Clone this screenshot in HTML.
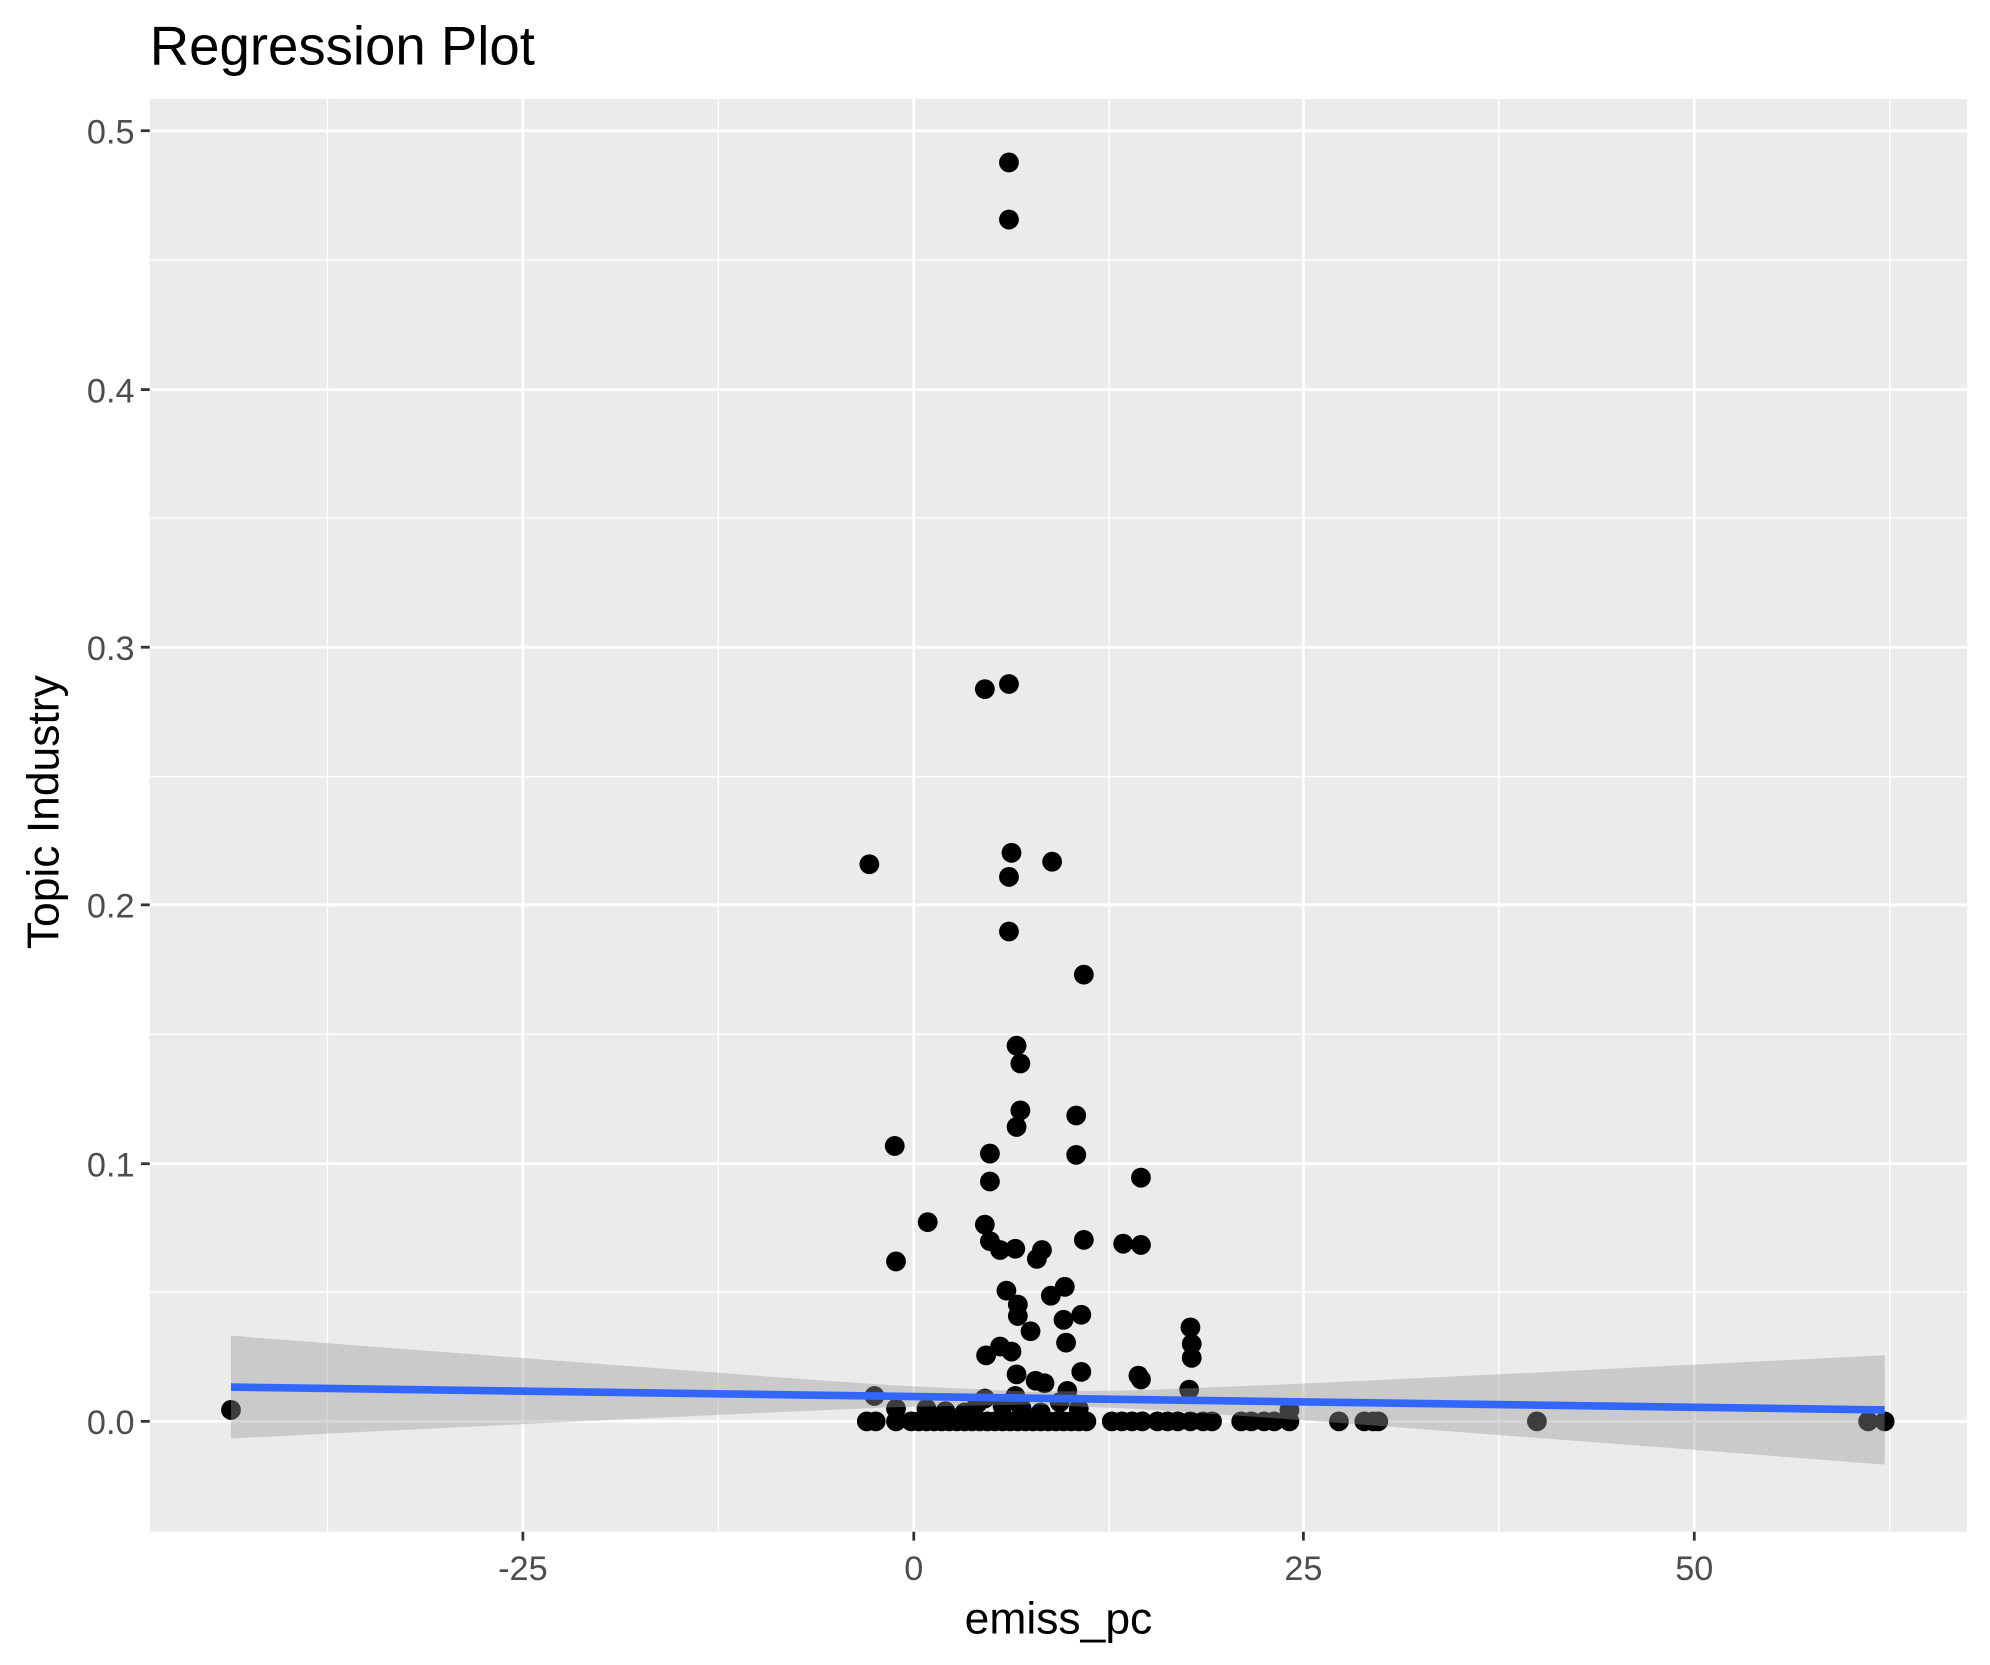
<!DOCTYPE html>
<html><head><meta charset="utf-8"><style>
html,body{margin:0;padding:0;background:#fff;}
svg{display:block;}
text{font-family:"Liberation Sans",sans-serif;}
</style></head><body>
<svg width="1990" height="1665" viewBox="0 0 1568 1312" preserveAspectRatio="none" xmlns="http://www.w3.org/2000/svg">
<rect x="0" y="0" width="1568" height="1312" fill="#fff"/>
<rect x="118" y="78" width="1432" height="1129" fill="#EBEBEB"/>
<g stroke="#fff" stroke-width="1.1">
<line x1="258" y1="78" x2="258" y2="1207"/><line x1="566" y1="78" x2="566" y2="1207"/><line x1="874" y1="78" x2="874" y2="1207"/><line x1="1181" y1="78" x2="1181" y2="1207"/><line x1="1489" y1="78" x2="1489" y2="1207"/>
<line x1="118" y1="1018" x2="1550" y2="1018"/><line x1="118" y1="815" x2="1550" y2="815"/><line x1="118" y1="612" x2="1550" y2="612"/><line x1="118" y1="408" x2="1550" y2="408"/><line x1="118" y1="205" x2="1550" y2="205"/>
</g>
<g stroke="#fff" stroke-width="2.2">
<line x1="412" y1="78" x2="412" y2="1207"/><line x1="720" y1="78" x2="720" y2="1207"/><line x1="1027" y1="78" x2="1027" y2="1207"/><line x1="1335" y1="78" x2="1335" y2="1207"/>
<line x1="118" y1="1120" x2="1550" y2="1120"/><line x1="118" y1="917" x2="1550" y2="917"/><line x1="118" y1="713" x2="1550" y2="713"/><line x1="118" y1="510" x2="1550" y2="510"/><line x1="118" y1="307" x2="1550" y2="307"/><line x1="118" y1="103" x2="1550" y2="103"/>
</g>
<g fill="#000">
<circle cx="182" cy="1111" r="7.8"/><circle cx="795" cy="128" r="7.8"/><circle cx="795" cy="173" r="7.8"/><circle cx="776" cy="543" r="7.8"/><circle cx="795" cy="539" r="7.8"/><circle cx="685" cy="681" r="7.8"/><circle cx="797" cy="672" r="7.8"/><circle cx="829" cy="679" r="7.8"/><circle cx="795" cy="691" r="7.8"/><circle cx="795" cy="734" r="7.8"/><circle cx="854" cy="768" r="7.8"/><circle cx="801" cy="824" r="7.8"/><circle cx="804" cy="838" r="7.8"/><circle cx="804" cy="875" r="7.8"/><circle cx="801" cy="888" r="7.8"/><circle cx="848" cy="879" r="7.8"/><circle cx="705" cy="903" r="7.8"/><circle cx="780" cy="909" r="7.8"/><circle cx="848" cy="910" r="7.8"/><circle cx="899" cy="928" r="7.8"/><circle cx="780" cy="931" r="7.8"/><circle cx="731" cy="963" r="7.8"/><circle cx="776" cy="965" r="7.8"/><circle cx="780" cy="978" r="7.8"/><circle cx="788" cy="985" r="7.8"/><circle cx="800" cy="984" r="7.8"/><circle cx="854" cy="977" r="7.8"/><circle cx="885" cy="980" r="7.8"/><circle cx="899" cy="981" r="7.8"/><circle cx="821" cy="985" r="7.8"/><circle cx="817" cy="992" r="7.8"/><circle cx="706" cy="994" r="7.8"/><circle cx="793" cy="1017" r="7.8"/><circle cx="828" cy="1021" r="7.8"/><circle cx="839" cy="1014" r="7.8"/><circle cx="802" cy="1028" r="7.8"/><circle cx="802" cy="1037" r="7.8"/><circle cx="852" cy="1036" r="7.8"/><circle cx="812" cy="1049" r="7.8"/><circle cx="938" cy="1046" r="7.8"/><circle cx="838" cy="1040" r="7.8"/><circle cx="840" cy="1058" r="7.8"/><circle cx="939" cy="1059" r="7.8"/><circle cx="939" cy="1070" r="7.8"/><circle cx="788" cy="1061" r="7.8"/><circle cx="797" cy="1065" r="7.8"/><circle cx="777" cy="1068" r="7.8"/><circle cx="852" cy="1081" r="7.8"/><circle cx="801" cy="1083" r="7.8"/><circle cx="816" cy="1088" r="7.8"/><circle cx="823" cy="1090" r="7.8"/><circle cx="897" cy="1084" r="7.8"/><circle cx="899" cy="1087" r="7.8"/><circle cx="937" cy="1095" r="7.8"/><circle cx="841" cy="1096" r="7.8"/><circle cx="689" cy="1100" r="7.8"/><circle cx="706" cy="1110" r="7.8"/><circle cx="1016" cy="1111" r="7.8"/>
<circle cx="730" cy="1110" r="7.8"/><circle cx="745" cy="1112" r="7.8"/><circle cx="760" cy="1113" r="7.8"/><circle cx="776" cy="1102" r="7.8"/><circle cx="790" cy="1108" r="7.8"/><circle cx="805" cy="1110" r="7.8"/><circle cx="820" cy="1113" r="7.8"/><circle cx="835" cy="1105" r="7.8"/><circle cx="850" cy="1110" r="7.8"/><circle cx="800" cy="1100" r="7.8"/><circle cx="770" cy="1106" r="7.8"/>
<circle cx="683" cy="1120" r="7.8"/><circle cx="690" cy="1120" r="7.8"/><circle cx="706" cy="1120" r="7.8"/><circle cx="718" cy="1120" r="7.8"/><circle cx="724" cy="1120" r="7.8"/><circle cx="730" cy="1120" r="7.8"/><circle cx="736" cy="1120" r="7.8"/><circle cx="742" cy="1120" r="7.8"/><circle cx="748" cy="1120" r="7.8"/><circle cx="754" cy="1120" r="7.8"/><circle cx="760" cy="1120" r="7.8"/><circle cx="766" cy="1120" r="7.8"/><circle cx="772" cy="1120" r="7.8"/><circle cx="778" cy="1120" r="7.8"/><circle cx="784" cy="1120" r="7.8"/><circle cx="790" cy="1120" r="7.8"/><circle cx="796" cy="1120" r="7.8"/><circle cx="802" cy="1120" r="7.8"/><circle cx="808" cy="1120" r="7.8"/><circle cx="814" cy="1120" r="7.8"/><circle cx="820" cy="1120" r="7.8"/><circle cx="826" cy="1120" r="7.8"/><circle cx="832" cy="1120" r="7.8"/><circle cx="838" cy="1120" r="7.8"/><circle cx="844" cy="1120" r="7.8"/><circle cx="850" cy="1120" r="7.8"/><circle cx="856" cy="1120" r="7.8"/><circle cx="876" cy="1120" r="7.8"/><circle cx="884" cy="1120" r="7.8"/><circle cx="892" cy="1120" r="7.8"/><circle cx="900" cy="1120" r="7.8"/><circle cx="912" cy="1120" r="7.8"/><circle cx="920" cy="1120" r="7.8"/><circle cx="928" cy="1120" r="7.8"/><circle cx="938" cy="1120" r="7.8"/><circle cx="948" cy="1120" r="7.8"/><circle cx="955" cy="1120" r="7.8"/><circle cx="978" cy="1120" r="7.8"/><circle cx="986" cy="1120" r="7.8"/><circle cx="996" cy="1120" r="7.8"/><circle cx="1004" cy="1120" r="7.8"/><circle cx="1016" cy="1120" r="7.8"/><circle cx="1055" cy="1120" r="7.8"/><circle cx="1075" cy="1120" r="7.8"/><circle cx="1082" cy="1120" r="7.8"/><circle cx="1086" cy="1120" r="7.8"/><circle cx="1211" cy="1120" r="7.8"/><circle cx="1472" cy="1120" r="7.8"/><circle cx="1485" cy="1120" r="7.8"/>
</g>
<polygon fill="#999999" fill-opacity="0.4" points="182,1052.5 300,1061.6 450,1073 600,1084.3 700,1091.4 813,1096.7 900,1095.4 1000,1091.4 1100,1086.8 1200,1082 1300,1077 1400,1072.1 1485,1067.9 1485,1154.1 1400,1147.5 1300,1139.8 1200,1132.2 1100,1124.6 1000,1117.2 900,1110.4 813,1106.7 700,1109 600,1113.3 450,1120.4 300,1127.6 182,1133.5"/>
<line x1="182" y1="1093" x2="1485" y2="1111" stroke="#3366FF" stroke-width="6"/>
<g stroke="#333" stroke-width="2.2">
<line x1="111" y1="1120" x2="118" y2="1120"/><line x1="111" y1="917" x2="118" y2="917"/><line x1="111" y1="713" x2="118" y2="713"/><line x1="111" y1="510" x2="118" y2="510"/><line x1="111" y1="307" x2="118" y2="307"/><line x1="111" y1="103" x2="118" y2="103"/>
<line x1="412" y1="1207" x2="412" y2="1214"/><line x1="720" y1="1207" x2="720" y2="1214"/><line x1="1027" y1="1207" x2="1027" y2="1214"/><line x1="1335" y1="1207" x2="1335" y2="1214"/>
</g>
<g fill="#4D4D4D" font-size="27" text-anchor="end">
<text x="106" y="1130">0.0</text><text x="106" y="927">0.1</text><text x="106" y="723">0.2</text><text x="106" y="520">0.3</text><text x="106" y="317">0.4</text><text x="106" y="113">0.5</text>
</g>
<g fill="#4D4D4D" font-size="27" text-anchor="middle">
<text x="412" y="1245">-25</text><text x="720" y="1245">0</text><text x="1027" y="1245">25</text><text x="1335" y="1245">50</text>
</g>
<text x="834" y="1287" font-size="35" text-anchor="middle" fill="#000">emiss_pc</text>
<text transform="translate(46,640) rotate(-90)" font-size="35" text-anchor="middle" fill="#000">Topic Industry</text>
<text x="118" y="51" font-size="43" fill="#000">Regression Plot</text>
</svg>
</body></html>
